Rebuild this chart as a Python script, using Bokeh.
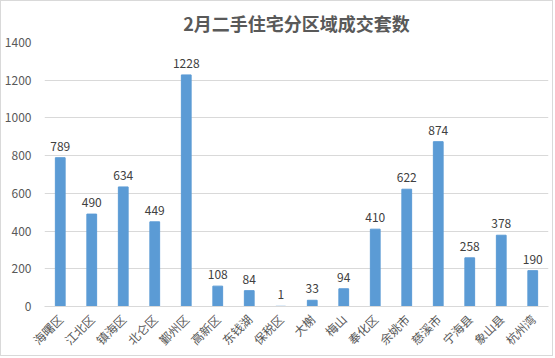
import math
from bokeh.plotting import figure
from bokeh.models import ColumnDataSource, FixedTicker, Range1d
from bokeh.core.properties import value
from bokeh.embed import file_html
from bokeh.resources import INLINE

categories = ["海曙区", "江北区", "镇海区", "北仑区", "鄞州区", "高新区", "东钱湖", "保税区",
              "大榭", "梅山", "奉化区", "余姚市", "慈溪市", "宁海县", "象山县", "杭州湾"]
counts = [789, 490, 634, 449, 1228, 108, 84, 1, 33, 94, 410, 622, 874, 258, 378, 190]
y_ticks = [0, 200, 400, 600, 800, 1000, 1200, 1400]

FONT = "Noto Sans CJK SC"

src = ColumnDataSource(dict(cat=categories, v=counts, lab=[str(c) for c in counts]))

p = figure(x_range=categories, y_range=Range1d(0, 1400), width=553, height=356,
           output_backend="svg", toolbar_location=None,
           min_border_left=37, min_border_right=6, min_border_top=2, min_border_bottom=51)
p.styles = {"border": "1px solid #d9d9d9"}

p.title.text = "2月二手住宅分区域成交套数"
p.title.align = "center"
p.title.text_font = FONT
p.title.text_font_size = "18px"
p.title.text_color = "#595959"
p.title.text_font_style = "bold"
p.title.offset = -16
p.title.standoff = 13

p.vbar(x="cat", top="v", width=0.31, source=src, color="#5B9BD5")
p.text(x="cat", y="v", text="lab", source=src, text_align="center", text_baseline="bottom",
       y_offset=-7, text_font=value(FONT), text_font_size="12px", text_color="#404040")

p.outline_line_color = None
p.background_fill_color = "white"
p.border_fill_color = "white"

p.xgrid.grid_line_color = None
p.ygrid.grid_line_color = "#d9d9d9"
p.ygrid.ticker = FixedTicker(ticks=y_ticks)

p.yaxis.ticker = FixedTicker(ticks=y_ticks)
p.yaxis.axis_line_color = None
p.yaxis.major_tick_line_color = None
p.yaxis.minor_tick_line_color = None
p.yaxis.major_label_text_font = FONT
p.yaxis.major_label_text_font_size = "12px"
p.yaxis.major_label_text_color = "#595959"
p.yaxis.major_label_standoff = 7

p.xaxis.axis_line_color = "#d9d9d9"
p.xaxis.major_tick_line_color = None
p.xaxis.minor_tick_line_color = None
p.xaxis.major_label_orientation = math.pi / 4
p.xaxis.major_label_text_font = FONT
p.xaxis.major_label_text_font_size = "12px"
p.xaxis.major_label_text_color = "#595959"
p.xaxis.major_label_standoff = 4

p.x_range.range_padding = 0

open("out.html", "w").write(file_html(p, INLINE))
